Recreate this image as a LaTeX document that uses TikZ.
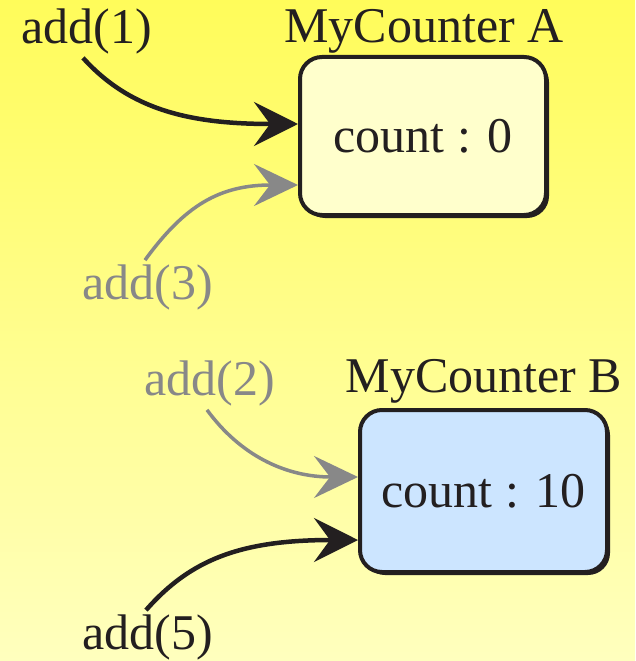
\documentclass[tikz,border=0pt]{standalone}
\usepackage{fontspec}
\setmainfont{Liberation Serif}
\usetikzlibrary{arrows.meta,calc}
\definecolor{ink}{RGB}{35,31,32}
\definecolor{greyink}{RGB}{136,136,136}
\definecolor{bgtop}{RGB}{255,252,90}
\definecolor{bgbot}{RGB}{255,255,190}
\definecolor{fillA}{RGB}{255,255,204}
\definecolor{fillB}{RGB}{204,229,255}
\tikzset{
  lbl/.style={font=\fontsize{50}{60}\selectfont, inner sep=2pt, text=ink},
  glbl/.style={lbl, text=greyink},
  counterbox/.style={draw=ink, line width=4pt, rounded corners=22pt,
    minimum width=246pt, minimum height=158pt, inner sep=0pt,
    font=\fontsize{50}{60}\selectfont, text=ink},
  callarrow/.style={line width=4.5pt, draw=ink,
    -{Stealth[length=44pt,width=44pt,inset=16pt]}},
  gcallarrow/.style={line width=3.5pt, draw=greyink,
    -{Stealth[length=44pt,width=42pt,inset=16pt,fill=greyink]}}
}
\begin{document}
\begin{tikzpicture}[x=1pt,y=-1pt]
  % page background
  \shade[top color=bgtop, bottom color=bgbot] (0,0) rectangle (635,661);
  \useasboundingbox (0,0) rectangle (635,661);

  % counter objects
  \fill[ink, rounded corners=22pt] (303,60) rectangle (549,218);
  \node[counterbox, fill=fillA] (boxA) at (423,136) {count : 0};
  \node[lbl] (nameA) at (424,31) {MyCounter A};

  \fill[ink, rounded corners=22pt] (363,413) rectangle (610,575);
  \node[counterbox, fill=fillB, minimum width=247pt, minimum height=162pt]
    (boxB) at (483.5,491) {count : 10};
  \node[lbl] (nameB) at (484,381) {MyCounter B};

  % method calls
  \node[lbl] (a1) at (87,31) {add(1)};
  \node[glbl] (a3) at (148,287) {add(3)};
  \node[glbl] (a2) at (210,383) {add(2)};
  \node[lbl] (a5) at (148,637) {add(5)};

  \draw[callarrow] ([xshift=-4pt,yshift=-2pt]a1.south)
    .. controls (130,110) and (190,124) .. ([yshift=12pt]boxA.west);
  \draw[gcallarrow] ([xshift=-3pt,yshift=2pt]a3.north)
    .. controls (185,205) and (220,185) .. ([yshift=-49pt]boxA.west);
  \draw[gcallarrow] ([xshift=-3pt,yshift=-2pt]a2.south)
    .. controls (240,455) and (285,477) .. ([yshift=14pt]boxB.west);
  \draw[callarrow] ([xshift=-2pt,yshift=2pt]a5.north)
    .. controls (190,560) and (240,540) .. ([yshift=-49pt]boxB.west);
\end{tikzpicture}
\end{document}
